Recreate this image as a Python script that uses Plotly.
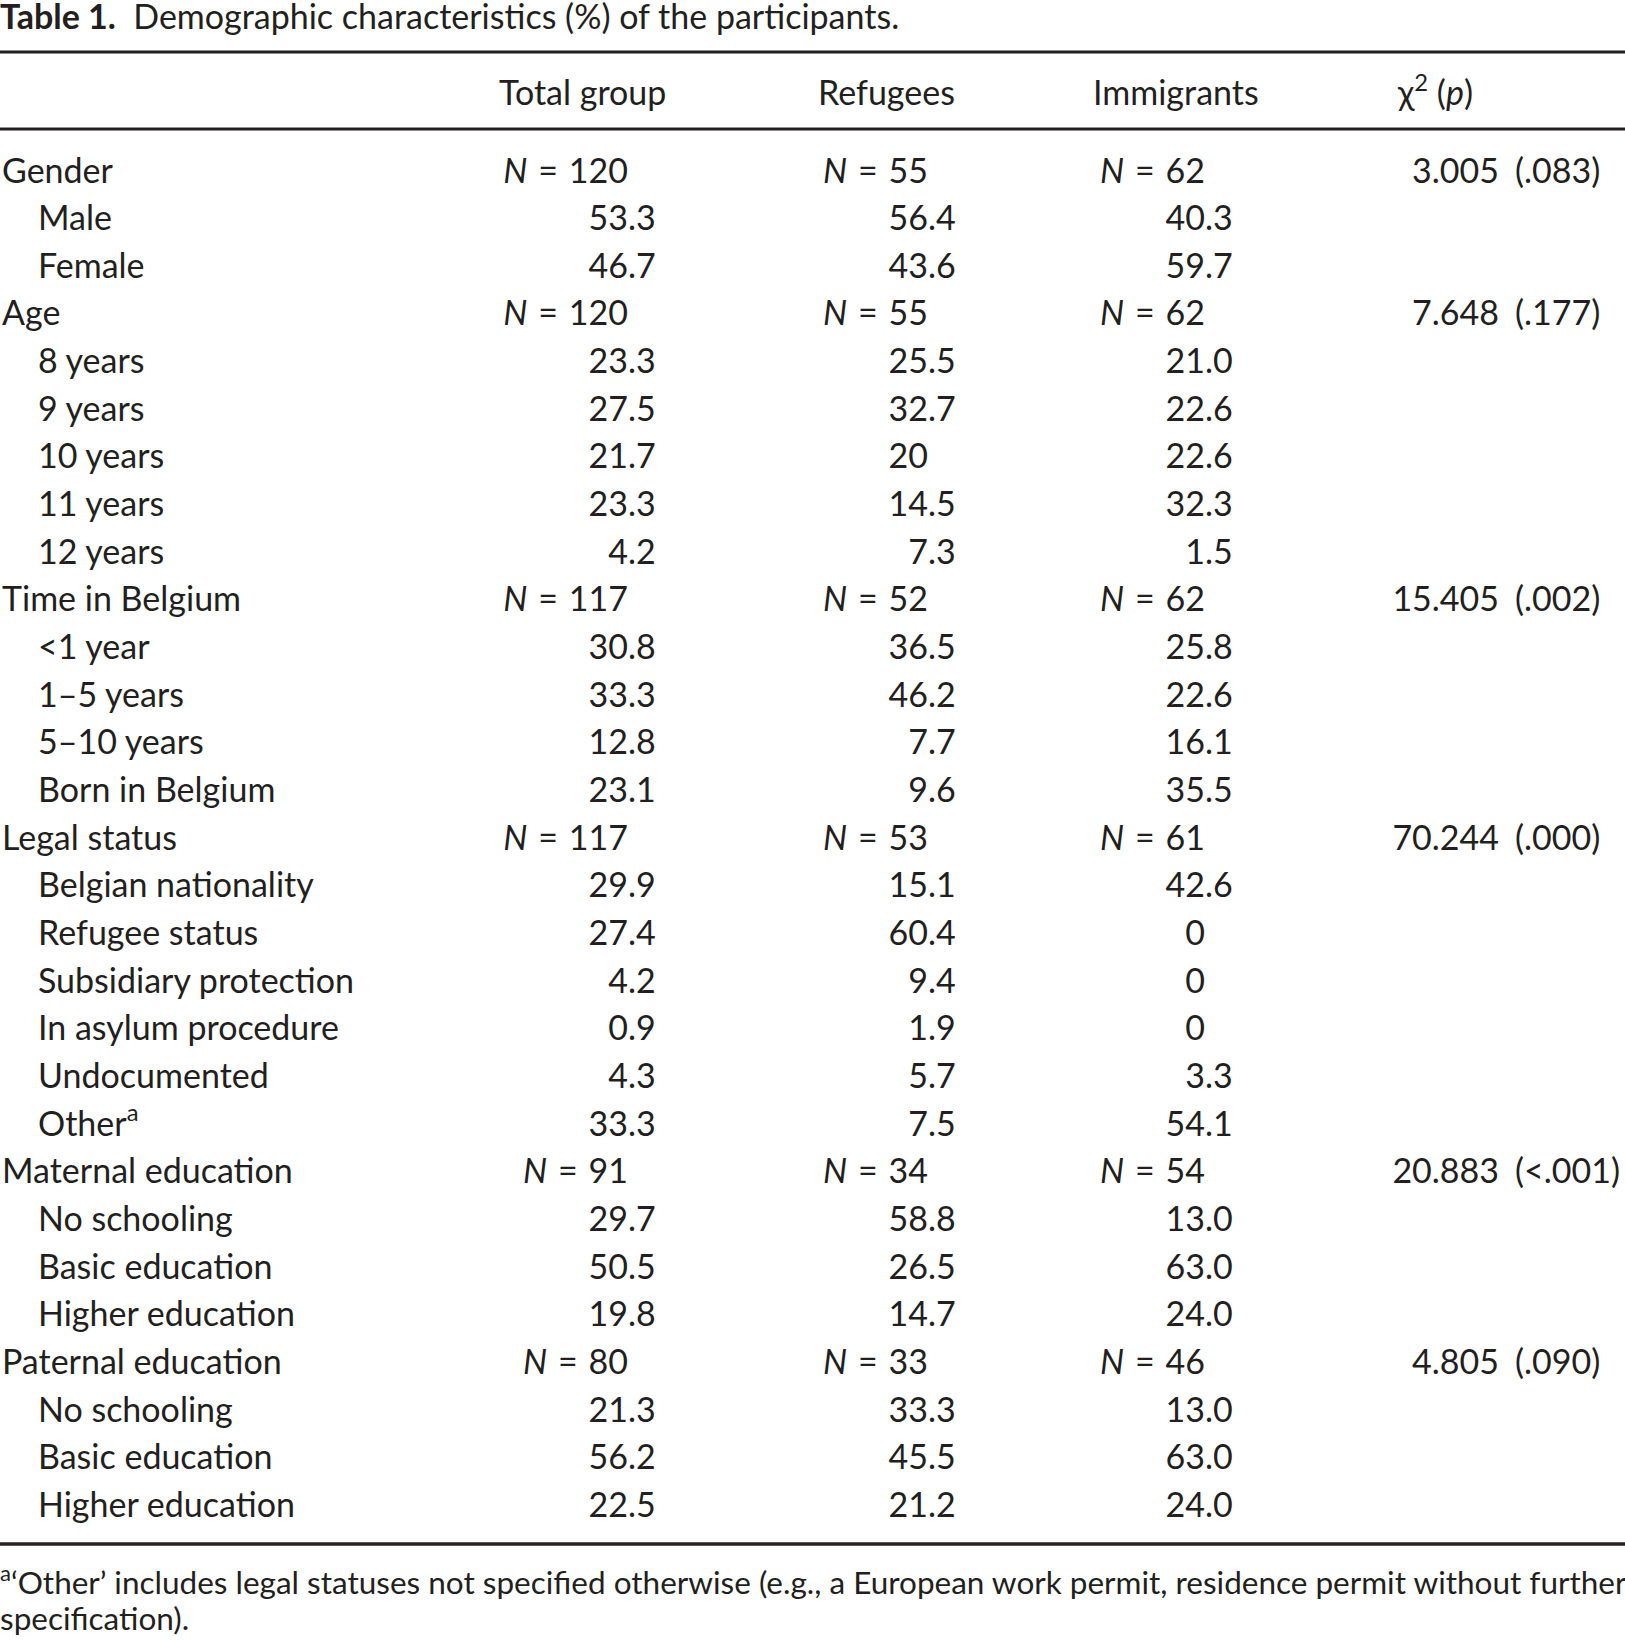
import plotly.graph_objects as go

# ---------------- data ----------------
title_bold = "Table 1."
title_rest = "Demographic characteristics (%) of the participants."
col_headers = ["Total group", "Refugees", "Immigrants", "χ<sup>2</sup> (<i>p</i>)"]

groups = ["Gender", "Age", "Time in Belgium", "Legal status",
          "Maternal education", "Paternal education"]
categories = [
    ["Male", "Female"],
    ["8 years", "9 years", "10 years", "11 years", "12 years"],
    ["<1 year", "1–5 years", "5–10 years", "Born in Belgium"],
    ["Belgian nationality", "Refugee status", "Subsidiary protection",
     "In asylum procedure", "Undocumented", "Other<sup>a</sup>"],
    ["No schooling", "Basic education", "Higher education"],
    ["No schooling", "Basic education", "Higher education"],
]
n_total = [120, 120, 117, 117, 91, 80]
n_refugees = [55, 55, 52, 53, 34, 33]
n_immigrants = [62, 62, 62, 61, 54, 46]
pct_total = [
    ["53.3", "46.7"],
    ["23.3", "27.5", "21.7", "23.3", "4.2"],
    ["30.8", "33.3", "12.8", "23.1"],
    ["29.9", "27.4", "4.2", "0.9", "4.3", "33.3"],
    ["29.7", "50.5", "19.8"],
    ["21.3", "56.2", "22.5"],
]
pct_refugees = [
    ["56.4", "43.6"],
    ["25.5", "32.7", "20", "14.5", "7.3"],
    ["36.5", "46.2", "7.7", "9.6"],
    ["15.1", "60.4", "9.4", "1.9", "5.7", "7.5"],
    ["58.8", "26.5", "14.7"],
    ["33.3", "45.5", "21.2"],
]
pct_immigrants = [
    ["40.3", "59.7"],
    ["21.0", "22.6", "22.6", "32.3", "1.5"],
    ["25.8", "22.6", "16.1", "35.5"],
    ["42.6", "0", "0", "0", "3.3", "54.1"],
    ["13.0", "63.0", "24.0"],
    ["13.0", "63.0", "24.0"],
]
chi2 = ["3.005", "7.648", "15.405", "70.244", "20.883", "4.805"]
p_values = [".083", ".177", ".002", ".000", "<.001", ".090"]
footnote_lines = [
    "<sup>a</sup>‘Other’ includes legal statuses not specified otherwise (e.g., a European work permit, residence permit without further",
    "specification).",
]

# ---------------- layout constants ----------------
W, H = 1625, 1640
FONT = "Lato"
FS = 34
FS_FOOT = 31.5
COLOR = "#231f20"
X_GROUP, X_SUB = 2, 38
X_HEAD = [499, 818, 1093, 1398]
X_DEC = [628, 928, 1205]          # decimal / right-align anchors of numeric columns
X_CHI_R, X_P_L = 1499, 1515
Y_TITLE, Y_HEAD = 20, 96.5
ROW0, ROW_H = 174.0, 47.66
RULES = [(52, 2.8), (129, 2.8), (1544, 3.6)]
Y_FOOT = [1586, 1622]

# ---------------- build rows ----------------
def n_text(n):
    return f"<i>N</i> \u200a=\u200a {n}"

rows = []  # (label, is_group, [col texts], chi, p)
for g, name in enumerate(groups):
    rows.append((name, True,
                 [n_text(n_total[g]), n_text(n_refugees[g]), n_text(n_immigrants[g])],
                 chi2[g], f"({p_values[g]})"))
    for k, cat in enumerate(categories[g]):
        rows.append((cat, False,
                     [pct_total[g][k], pct_refugees[g][k], pct_immigrants[g][k]], "", ""))

row_y = [ROW0 + i * ROW_H for i in range(len(rows))]

fig = go.Figure()

def add_text(xs, ys, texts, pos, size=FS):
    fig.add_trace(go.Scatter(
        x=xs, y=ys, text=texts, mode="text", textposition=pos,
        textfont=dict(family=FONT, size=size, color=COLOR),
        hoverinfo="skip", showlegend=False, cliponaxis=False))

# title
add_text([0], [Y_TITLE], [f"<b>{title_bold}</b>  {title_rest}"], "middle right")
# headers
add_text(X_HEAD, [Y_HEAD] * 4, col_headers, "middle right")
# row labels
add_text([X_GROUP if r[1] else X_SUB for r in rows], row_y, [r[0] for r in rows], "middle right")

# numeric columns (decimal aligned)
for c in range(3):
    left_x, left_y, left_t = [], [], []
    right_x, right_y, right_t = [], [], []
    for r, y in zip(rows, row_y):
        t = r[2][c]
        if "." in t and not t.startswith("<i>"):
            ip, fp = t.split(".", 1)
            left_t.append(ip); right_t.append("." + fp)
            right_x.append(X_DEC[c]); right_y.append(y)
        else:
            left_t.append(t)
        left_x.append(X_DEC[c]); left_y.append(y)
    add_text(left_x, left_y, left_t, "middle left")
    add_text(right_x, right_y, right_t, "middle right")

# chi-square column
gy = [y for r, y in zip(rows, row_y) if r[1]]
add_text([X_CHI_R] * len(gy), gy, [r[3] for r in rows if r[1]], "middle left")
add_text([X_P_L] * len(gy), gy, [r[4] for r in rows if r[1]], "middle right")

# footnote
add_text([0, 0], Y_FOOT, footnote_lines, "middle right", size=FS_FOOT)

shapes = [dict(type="line", xref="paper", x0=0, x1=1, yref="y", y0=y, y1=y,
               line=dict(color=COLOR, width=w)) for y, w in RULES]

fig.update_layout(
    width=W, height=H, margin=dict(l=0, r=0, t=0, b=0),
    paper_bgcolor="white", plot_bgcolor="white",
    xaxis=dict(range=[0, W], visible=False, fixedrange=True),
    yaxis=dict(range=[H, 0], visible=False, fixedrange=True),
    shapes=shapes, showlegend=False,
)

fig.write_html(
    "out.html",
    config={"displayModeBar": False},
    post_script="document.body.style.margin='0';document.body.style.overflow='hidden';",
)
